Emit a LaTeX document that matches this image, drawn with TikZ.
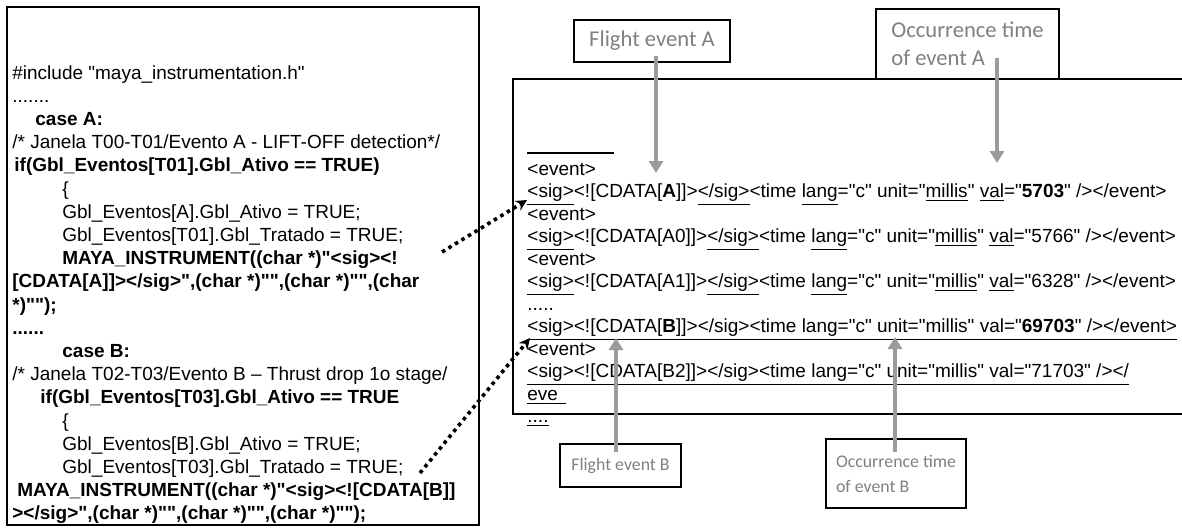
\documentclass[tikz,border=0pt]{standalone}
\usepackage{fontspec}
\setmainfont{Liberation Sans}[Ligatures=TeXOff]
\newfontfamily\calibrifont{Carlito}
\usetikzlibrary{arrows.meta}
\definecolor{notegray}{RGB}{128,128,128}
\definecolor{arrowgray}{RGB}{155,155,155}
\newcommand{\uln}[1]{\underline{#1}}
\tikzset{
  code/.style    ={anchor=base west, inner sep=0pt, font=\fontsize{9.5}{11}\selectfont},
  frame/.style   ={draw=black, line width=1pt},
  note/.style    ={rectangle, draw=black, line width=1pt, inner sep=0pt,
                   text=notegray, align=left},
  bignote/.style ={note, font=\calibrifont\fontsize{11.3}{14}\selectfont},
  smallnote/.style={note, font=\calibrifont\fontsize{8.9}{12.5}\selectfont},
  pointer/.style ={-{Triangle[length=6pt,width=7pt]}, line width=1.9pt, draw=arrowgray},
  link/.style    ={-{Stealth[length=5.5pt,width=5.5pt]}, line width=1.8pt,
                   dash pattern=on 1.8pt off 2pt},
}

\begin{document}
\begin{tikzpicture}[x=0.5pt, y=-0.5pt]
  \useasboundingbox (0,0) rectangle (1182,527);

  % source file
  \draw[frame] (7,7) rectangle (479,525);
  \node[code] (c0)  at (12,79)    {\#include "maya\_instrumentation.h"};
  \node[code] (c1)  at (12,102.2) {.......};
  \node[code] (c2)  at (35,125.4) {\bfseries case A:};
  \node[code] (c3)  at (12,148.6) {/* Janela T00-T01/Evento A - LIFT-OFF detection*/};
  \node[code] (c4)  at (14,171.8) {\bfseries if(Gbl\_Eventos[T01].Gbl\_Ativo == TRUE)};
  \node[code] (c5)  at (62,195)   {\{};
  \node[code] (c6)  at (62,218.2) {Gbl\_Eventos[A].Gbl\_Ativo = TRUE;};
  \node[code] (c7)  at (62,241.4) {Gbl\_Eventos[T01].Gbl\_Tratado = TRUE;};
  \node[code] (c8)  at (62,264.6) {\bfseries MAYA\_INSTRUMENT((char *)"<sig><!};
  \node[code] (c9)  at (12,287.8) {\bfseries [CDATA[A]]></sig>",(char *)"",(char *)"",(char};
  \node[code] (c10) at (12,311)   {\bfseries *)"");};
  \node[code] (c11) at (12,334.2) {\bfseries ......};
  \node[code] (c12) at (62,357.4) {\bfseries case B:};
  \node[code] (c13) at (12,380.6) {/* Janela T02-T03/Evento B – Thrust drop 1o stage/};
  \node[code] (c14) at (40,403.8) {\bfseries if(Gbl\_Eventos[T03].Gbl\_Ativo == TRUE};
  \node[code] (c15) at (62,427)   {\{};
  \node[code] (c16) at (62,450.2) {Gbl\_Eventos[B].Gbl\_Ativo = TRUE;};
  \node[code] (c17) at (62,473.4) {Gbl\_Eventos[T03].Gbl\_Tratado = TRUE;};
  \node[code] (c18) at (17,496.6) {\bfseries MAYA\_INSTRUMENT((char *)"<sig><![CDATA[B]]};
  \node[code] (c19) at (12,519.8) {\bfseries ></sig>",(char *)"",(char *)"",(char *)"");};

  % log output
  \draw[frame, line width=0.75pt] (1182,79) -- (513,79) -- (513,414) -- (1182,414);
  \draw[line width=1pt] (527,153) -- (614,153);
  \node[code] (x0)  at (527,175)   {<event>};
  \node[code] (x1)  at (527,197.5) {\uln{<sig>}<![CDATA[\textbf{A}]]>\uln{</sig>}<time \uln{lang}="c" unit="\uln{millis}" \uln{val}="\textbf{5703}" /></event>};
  \node[code] (x2)  at (527,220)   {<event>};
  \node[code] (x3)  at (527,242.5) {\uln{<sig>}<![CDATA[A0]]>\uln{</sig>}<time \uln{lang}="c" unit="\uln{millis}" \uln{val}="5766" /></event>};
  \node[code] (x4)  at (527,265)   {<event>};
  \node[code] (x5)  at (527,287.5) {\uln{<sig>}<![CDATA[A1]]>\uln{</sig>}<time \uln{lang}="c" unit="\uln{millis}" \uln{val}="6328" /></event>};
  \node[code] (x6)  at (527,310)   {.....};
  \node[code] (x7)  at (527,332.5) {\uln{<sig><![CDATA[\textbf{B}]]></sig><time lang="c" unit="millis" val="\textbf{69703}" /></event>}};
  \node[code] (x8)  at (527,355)   {<event>};
  \node[code] (x9)  at (527,377.5) {\uln{<sig><![CDATA[B2]]></sig><time lang="c" unit="millis" val="71703" /></}};
  \node[code] (x10) at (527,400)   {\uln{eve\hspace{4pt}}};
  \node[code] (x11) at (527,422.5) {\uln{....}};

  % callouts
  \node[bignote, minimum width=78pt, minimum height=21pt] (flightA) at (652,41) {Flight event A};
  \node[bignote, minimum width=91.5pt, minimum height=35pt] (timeA) at (967.5,44) {Occurrence time\\of event A};
  \node[smallnote, minimum width=60.5pt, minimum height=21.5pt] (flightB) at (620.5,465.5) {Flight event B};
  \node[smallnote, minimum width=70pt, minimum height=34.5pt] (timeB) at (896,473.5) {Occurrence time\\of event B};

  \coordinate (evA) at (656,173);
  \coordinate (tA)  at (997,163);
  \coordinate (evB) at (616,338);
  \coordinate (tB)  at (895,337);
  \draw[pointer] ([xshift=2pt,yshift=3.5pt]flightA.south) -- (evA);
  \draw[pointer] ([xshift=14.75pt,yshift=11pt]timeA.south) -- (tA);
  \draw[pointer] ([xshift=-2.25pt,yshift=-4.5pt]flightB.north) -- (evB);
  \draw[pointer] ([xshift=-0.5pt,yshift=-7pt]timeB.north) -- (tB);

  % from the instrumented calls to the log lines
  \coordinate (srcA) at (442,252);
  \coordinate (dstA) at (527,200);
  \coordinate (srcB) at (420,473);
  \coordinate (dstB) at (530,338);
  \draw[link] (srcA) -- (dstA);
  \draw[link] (srcB) -- (dstB);
\end{tikzpicture}
\end{document}
